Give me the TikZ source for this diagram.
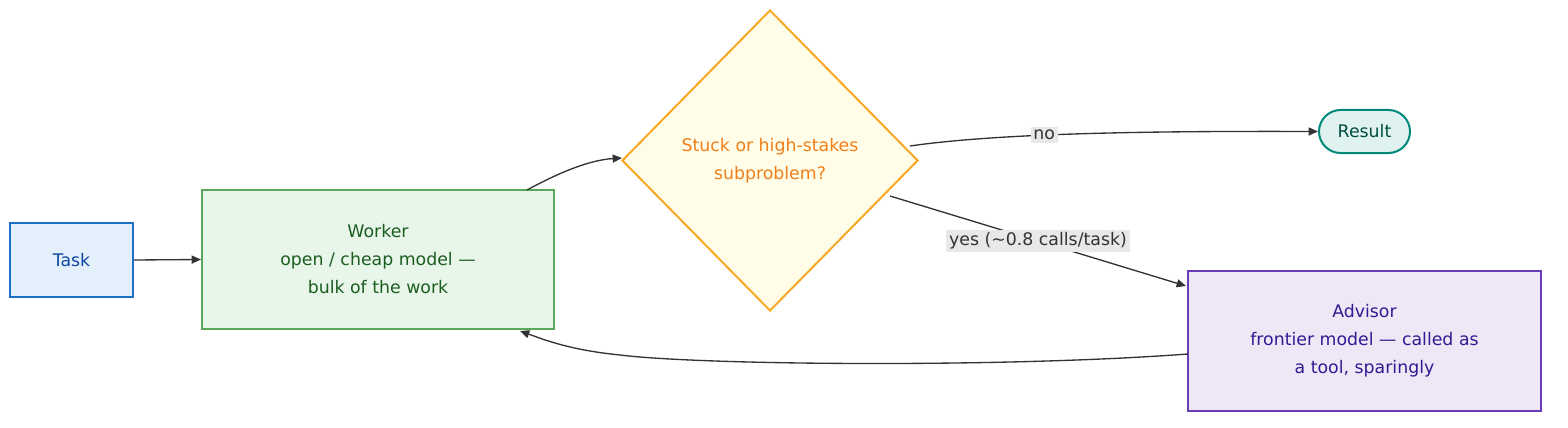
\documentclass[tikz,border=0pt]{standalone}
\usepackage{fontspec}
\setmainfont{DejaVu Sans}
\usetikzlibrary{shapes.geometric,arrows.meta}
\definecolor{taskfill}{HTML}{E3F0FC}\definecolor{taskdraw}{HTML}{1E6FC5}\definecolor{tasktext}{HTML}{0D47A1}
\definecolor{wfill}{HTML}{E8F5E9}\definecolor{wdraw}{HTML}{5BA85B}\definecolor{wtext}{HTML}{1B5E20}
\definecolor{dfill}{HTML}{FFFDE7}\definecolor{ddraw}{HTML}{F9A825}\definecolor{dtext}{HTML}{EF7F1A}
\definecolor{rfill}{HTML}{E0F2EF}\definecolor{rdraw}{HTML}{00897B}\definecolor{rtext}{HTML}{004D40}
\definecolor{afill}{HTML}{EDE7F6}\definecolor{adraw}{HTML}{6A3DB8}\definecolor{atext}{HTML}{311B92}
\definecolor{edge}{HTML}{333333}\definecolor{lbl}{HTML}{E8E8E8}
\begin{document}
\begin{tikzpicture}[x=0.75pt,y=-0.75pt,
  every node/.style={font=\fontsize{13}{21}\selectfont, align=center, inner sep=0pt},
  box/.style={draw, line width=1.5pt},
  conn/.style={draw=edge, line width=1pt, -{Triangle[length=7pt,width=6pt]}},
  elabel/.style={fill=lbl, text=edge, inner sep=2pt}]
\useasboundingbox (0,0) rectangle (1568,428);
\node[box, draw=taskdraw, fill=taskfill, text=tasktext, minimum width=123*0.75pt, minimum height=74*0.75pt] (task) at (71.5,260) {Task};
\node[box, draw=wdraw, fill=wfill, text=wtext, minimum width=352*0.75pt, minimum height=139*0.75pt] (worker) at (378,259.5) {Worker\\open / cheap model —\\bulk of the work};
\node[box, diamond, draw=ddraw, fill=dfill, text=dtext, minimum width=296*0.75pt, minimum height=301*0.75pt] (dec) at (770,160.5) {Stuck or high-stakes\\subproblem?};
\node[box, rounded corners=21.5*0.75pt, draw=rdraw, fill=rfill, text=rtext, minimum width=91*0.75pt, minimum height=43*0.75pt] (res) at (1364.5,131.5) {Result};
\node[box, draw=adraw, fill=afill, text=atext, minimum width=353*0.75pt, minimum height=140*0.75pt] (adv) at (1364.5,341) {Advisor\\frontier model — called as\\a tool, sparingly};
\coordinate (wtop) at (527,190);
\coordinate (wbot) at (520,331);
\coordinate (dl) at (622,158);
\coordinate (dr1) at (910,146);
\coordinate (dr2) at (890,196);
\coordinate (al) at (1188,354);
\coordinate (at) at (1186,286);
\draw[conn] (task.east) -- (worker.west);
\draw[conn] (wtop) .. controls (560,172) and (590,160) .. (dl);
\draw[conn] (dr1) .. controls (1000,133) and (1150,131) .. (res.west) node[pos=0.4, elabel] {no};
\draw[conn] (dr2) -- (at) node[pos=0.5, elabel] {yes (\textasciitilde0.8 calls/task)};
\draw[conn] (al) .. controls (1000,368) and (700,365) .. (620,355) .. controls (570,350) and (545,340) .. (wbot);
\end{tikzpicture}
\end{document}
